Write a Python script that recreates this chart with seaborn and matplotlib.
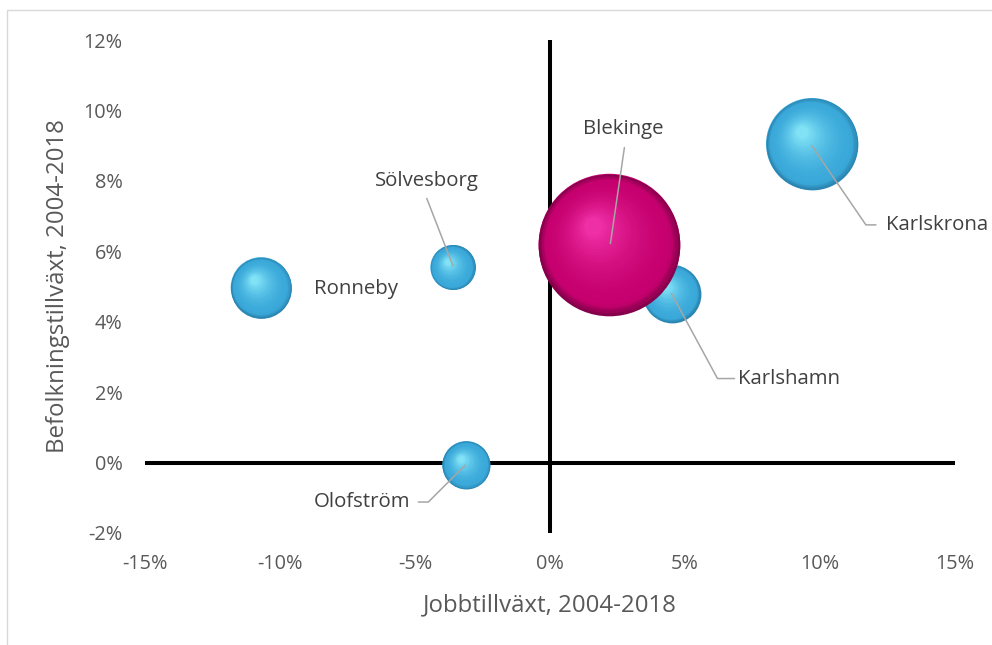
import numpy as np
import pandas as pd
import matplotlib
matplotlib.use("Agg")
import matplotlib.pyplot as plt
import matplotlib.colors as mcolors
from matplotlib.patches import Rectangle
from matplotlib.ticker import FixedLocator, FixedFormatter
from matplotlib.transforms import Affine2D, ScaledTranslation
import seaborn as sns

# Blekinge: jobbtillväxt (x), befolkningstillväxt (y), bubbelstorlek
kommuner = ["Ronneby", "Sölvesborg", "Olofström", "Karlshamn", "Karlskrona", "Blekinge"]
jobbtillvaxt = [-0.107, -0.036, -0.031, 0.045, 0.097, 0.022]
befolkningstillvaxt = [0.0497, 0.0554, -0.0007, 0.048, 0.0905, 0.0619]
storlek = [29.3, 16.0, 18.2, 26.5, 66.7, 159.0]
grupp = ["kommun", "kommun", "kommun", "kommun", "kommun", "län"]

x_ticks = [-0.15, -0.10, -0.05, 0.0, 0.05, 0.10, 0.15]
x_labels = ["-15%", "-10%", "-5%", "0%", "5%", "10%", "15%"]
y_ticks = [-0.02, 0.0, 0.02, 0.04, 0.06, 0.08, 0.10, 0.12]
y_labels = ["-2%", "0%", "2%", "4%", "6%", "8%", "10%", "12%"]

df = pd.DataFrame({"kommun": kommuner, "jobb": jobbtillvaxt,
                   "befolkning": befolkningstillvaxt, "storlek": storlek, "grupp": grupp})

# label placement, pixels relative to bubble centre (text offset, leader vertices)
label_layout = {
    "Ronneby":    dict(off=(53, -1), ha="left", leader=[]),
    "Sölvesborg": dict(off=(-26, 86), ha="center", leader=[(-26, 69), (0, 2)]),
    "Olofström":  dict(off=(-56, -37), ha="right", leader=[(-48, -37), (-38, -37), (-1, 0)]),
    "Blekinge":   dict(off=(14, 116), ha="center", leader=[(15, 97), (1, 1)]),
    "Karlshamn":  dict(off=(66, -85), ha="left", leader=[(63, -85), (46, -85), (0, 0)]),
    "Karlskrona": dict(off=(74, -81), ha="left", leader=[(64, -81), (54, -81), (0, -2)]),
}
palette = {"kommun": "#3AA9DA", "län": "#C6006E"}
shading = {"kommun": ("#2C86B2", "#3AA9DA", "#86E6F8"),
           "län": ("#86004C", "#C6006E", "#F232AA")}

sns.set_theme(style="white")
plt.rcParams["font.family"] = ["Open Sans", "DejaVu Sans"]
text_color = "#595959"

fig = plt.figure(figsize=(9.92, 6.45), dpi=100)
ax = fig.add_axes([145 / 992, 1 - 533 / 645, 810 / 992, 493 / 645])
ax.set_xlim(-0.15, 0.15)
ax.set_ylim(-0.02, 0.12)

sns.scatterplot(data=df, x="jobb", y="befolkning", size="storlek", sizes=(0, 10400),
                size_norm=(0, max(storlek)), hue="grupp", palette=palette,
                legend=False, linewidth=0, ax=ax, zorder=3)
base = ax.collections[0]
point_sizes = base.get_sizes()

# fake 3D sphere shading: shrinking circles drifting to the upper-left highlight
n_layers = 30
for i, row in df.iterrows():
    s = point_sizes[i]
    R = np.sqrt(s) / 2
    rim, mid, hi = [np.array(mcolors.to_rgb(c)) for c in shading[row["grupp"]]]
    for k in range(n_layers):
        t = k / n_layers * 0.9
        f = 1 - t
        if t < 0.1:
            col = rim + (mid - rim) * (t / 0.1)
        else:
            col = mid + (hi - mid) * ((t - 0.1) / 0.8) ** 1.8
        dx, dy = -0.26 * R * t, 0.30 * R * t
        tr = ax.transData + ScaledTranslation(dx / 72, dy / 72, fig.dpi_scale_trans)
        ax.scatter([row["jobb"]], [row["befolkning"]], s=s * f * f, color=col,
                   linewidths=0, transform=tr, zorder=4 + i)

ax.axhline(0, color="black", lw=2.9, zorder=2)
ax.axvline(0, color="black", lw=2.9, zorder=2)

for i, row in df.iterrows():
    lay = label_layout[row["kommun"]]
    ax.annotate(row["kommun"], xy=(row["jobb"], row["befolkning"]), xytext=lay["off"],
                textcoords="offset pixels", ha=lay["ha"], va="center",
                fontsize=14.7, color="#404040", zorder=30)
    if lay["leader"]:
        vx = [p[0] for p in lay["leader"]]
        vy = [p[1] for p in lay["leader"]]
        tr = Affine2D() + ScaledTranslation(row["jobb"], row["befolkning"], ax.transData)
        ax.plot(vx, vy, color="#A6A6A6", lw=1.1, transform=tr, zorder=29)

ax.xaxis.set_major_locator(FixedLocator(x_ticks))
ax.xaxis.set_major_formatter(FixedFormatter(x_labels))
ax.yaxis.set_major_locator(FixedLocator(y_ticks))
ax.yaxis.set_major_formatter(FixedFormatter(y_labels))
ax.tick_params(axis="x", length=0, pad=15, labelsize=14.3, labelcolor=text_color)
ax.tick_params(axis="y", length=0, pad=16, labelsize=14.3, labelcolor=text_color)
for sp in ax.spines.values():
    sp.set_visible(False)
ax.grid(False)

ax.set_xlabel("Jobbtillväxt, 2004-2018", fontsize=17.3, color=text_color)
ax.set_ylabel("Befolkningstillväxt, 2004-2018", fontsize=17.3, color=text_color)
ax.xaxis.set_label_coords(0.5, -(605 - 533) / 493)
ax.xaxis.label.set_va("center")
ax.yaxis.set_label_coords((58 - 145) / 810, 0.5)
ax.yaxis.label.set_va("center")

fig.add_artist(Rectangle((7 / 992, -0.1), 1.2, 1 - 10 / 645 + 0.1, transform=fig.transFigure,
                         fill=False, edgecolor="#D9D9D9", lw=1))

fig.savefig("out.png", dpi=100)
